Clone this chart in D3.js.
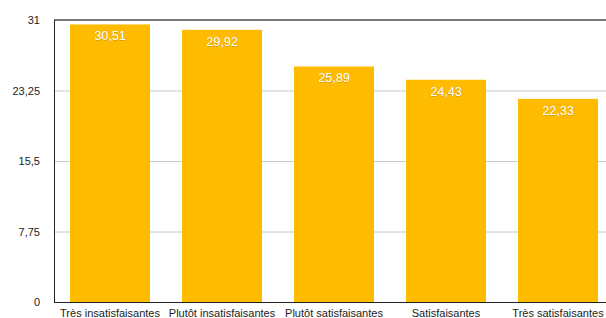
<!DOCTYPE html>
<html>
<head>
<meta charset="utf-8">
<script src="https://cdn.jsdelivr.net/npm/d3@7"></script>
<style>
  html, body { margin: 0; padding: 0; background: #fff; overflow: hidden; }
  svg { display: block; font-family: "Liberation Sans", Arial, sans-serif; }
</style>
</head>
<body>
<div id="chart"></div>
<script>
// Données
const categories = ["Très insatisfaisantes", "Plutôt insatisfaisantes", "Plutôt satisfaisantes", "Satisfaisantes", "Très satisfaisantes"];
const values = [30.51, 29.92, 25.89, 24.43, 22.33];
const yTicks = [0, 7.75, 15.5, 23.25, 31];

const W = 606, H = 318;
const plotLeft = 54, plotTop = 20, plotBottom = 302;

const fmt = v => String(v).replace(".", ",");

const svg = d3.select("#chart").append("svg")
  .attr("width", W).attr("height", H);

const x = d3.scaleBand()
  .domain(categories)
  .range([plotLeft, plotLeft + 560])
  .paddingInner(0.2857)
  .paddingOuter(0.1429);

const y = d3.scaleLinear()
  .domain([0, 31])
  .range([plotBottom, plotTop]);

// ── Grille ──
const grid = svg.append("g").attr("class", "grid");
grid.selectAll("line")
  .data(yTicks.filter(t => t > 0 && t < 31))
  .join("line")
  .attr("x1", plotLeft).attr("x2", W)
  .attr("y1", d => y(d) + 0.5).attr("y2", d => y(d) + 0.5)
  .attr("stroke", "#c8c8c8").attr("stroke-width", 1);

// Ligne du haut (grise)
svg.append("line")
  .attr("x1", plotLeft).attr("x2", W)
  .attr("y1", y(31)).attr("y2", y(31))
  .attr("stroke", "#7a7a7a").attr("stroke-width", 2);

// ── Barres ──
svg.append("g").selectAll("rect")
  .data(values)
  .join("rect")
  .attr("x", (d, i) => x(categories[i]))
  .attr("y", d => y(d))
  .attr("width", x.bandwidth())
  .attr("height", d => plotBottom - y(d))
  .attr("fill", "#ffbb00");

// Étiquettes de valeur
const defs = svg.append("defs");
const f = defs.append("filter").attr("id", "shadow")
  .attr("x", "-20%").attr("y", "-20%").attr("width", "140%").attr("height", "140%");
f.append("feDropShadow").attr("dx", 0).attr("dy", 0.5)
  .attr("stdDeviation", 0.6).attr("flood-color", "#8a6a00").attr("flood-opacity", 0.6);

svg.append("g").selectAll("text")
  .data(values)
  .join("text")
  .attr("x", (d, i) => x(categories[i]) + x.bandwidth() / 2)
  .attr("y", d => y(d) + 16)
  .attr("text-anchor", "middle")
  .attr("font-size", 12.5)
  .attr("fill", "#fff")
  .attr("filter", "url(#shadow)")
  .text(d => fmt(d));

// ── Axes ──
svg.append("line")
  .attr("x1", plotLeft + 0.5).attr("x2", plotLeft + 0.5)
  .attr("y1", plotTop).attr("y2", plotBottom)
  .attr("stroke", "#222").attr("stroke-width", 1);
svg.append("line")
  .attr("x1", plotLeft).attr("x2", W)
  .attr("y1", plotBottom + 0.5).attr("y2", plotBottom + 0.5)
  .attr("stroke", "#222").attr("stroke-width", 1.2);

svg.append("g").selectAll("text")
  .data(yTicks)
  .join("text")
  .attr("x", 40)
  .attr("y", d => y(d) + 4)
  .attr("text-anchor", "end")
  .attr("font-size", 11)
  .attr("fill", "#222")
  .text(d => fmt(d));

svg.append("g").selectAll("text")
  .data(categories)
  .join("text")
  .attr("x", d => x(d) + x.bandwidth() / 2)
  .attr("y", 317)
  .attr("text-anchor", "middle")
  .attr("font-size", 11)
  .attr("fill", "#222")
  .text(d => d);
</script>
</body>
</html>
